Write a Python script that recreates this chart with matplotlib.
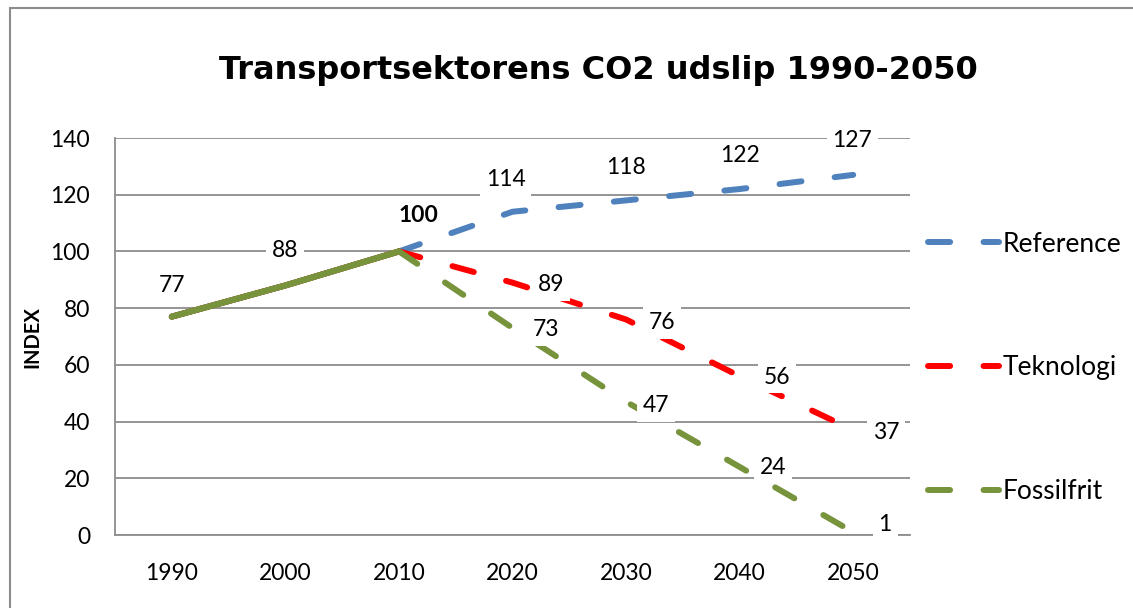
import matplotlib
matplotlib.use("Agg")
import matplotlib.pyplot as plt
from matplotlib.lines import Line2D
from matplotlib.patches import Rectangle

# ---- data ----
years = ["1990", "2000", "2010", "2020", "2030", "2040", "2050"]
reference = [77, 88, 100, 114, 118, 122, 127]
teknologi = [77, 88, 100, 89, 76, 56, 37]
fossilfrit = [77, 88, 100, 73, 47, 24, 1]
series_names = ["Reference", "Teknologi", "Fossilfrit"]
title = "Transportsektorens CO2 udslip 1990-2050"
y_label = "INDEX"

# ---- style ----
colors = {"Reference": "#4F81BD", "Teknologi": "#FF0000", "Fossilfrit": "#77933C"}
FONT = "Lato"
FS = 16.5
LEG_FS = 19
LW = 4.3
DASH = (3.7, 5.6)
GRID = "#8C8C8C"

fig = plt.figure(figsize=(11.33, 6.08), dpi=100)
W, H = 1133, 608
ax = fig.add_axes([115 / W, 1 - 535 / H, (910 - 115) / W, (535 - 138) / H])

xs = list(range(len(years)))
split = years.index("2010")
data = {"Reference": reference, "Teknologi": teknologi, "Fossilfrit": fossilfrit}

handles = []
for i, name in enumerate(series_names):
    vals = data[name]
    c = colors[name]
    ax.plot(xs[: split + 1], vals[: split + 1], color=c, lw=LW,
            solid_capstyle="round", zorder=3 + i * 0.1)
    ax.plot(xs[split:], vals[split:], color=c, lw=LW,
            dashes=DASH, dash_capstyle="round", zorder=3 + i * 0.1)
    handles.append(Line2D([], [], color=c, lw=LW, dashes=DASH,
                          dash_capstyle="round", label=name))
ax.plot(xs[: split + 1], fossilfrit[: split + 1], color=colors["Fossilfrit"],
        lw=LW, solid_capstyle="round", zorder=3.5)

ax.set_xlim(-0.5, len(years) - 0.5)
ax.set_ylim(0, 140)
ax.set_yticks(range(0, 141, 20))
ax.set_xticks(xs)
ax.set_xticklabels(years)
ax.yaxis.grid(True, color=GRID, lw=1.3)
ax.set_axisbelow(True)
for s in ["top", "right"]:
    ax.spines[s].set_visible(False)
for s in ["left", "bottom"]:
    ax.spines[s].set_color(GRID)
    ax.spines[s].set_linewidth(1.3)
ax.tick_params(axis="both", length=0, labelsize=FS)
ax.tick_params(axis="y", pad=18)
ax.tick_params(axis="x", pad=20)
for lab in ax.get_xticklabels() + ax.get_yticklabels():
    lab.set_fontfamily(FONT)

# ---- data labels ----
box = dict(boxstyle="square,pad=0.25", fc="white", ec="none")
ref_off = [(0, 31), (0, 35), (20, 36), (-7, 32), (0, 33), (0, 34), (-1, 34)]
tek_off = [(39, -2), (36, -3), (37, -1), (33, -2)]
fos_off = [(33, -2), (30, -4), (33, -1), (32, 8)]
for j, v in enumerate(reference):
    ax.annotate(str(v), (xs[j], v), xytext=ref_off[j], textcoords="offset pixels",
                ha="center", va="center", fontsize=FS, family=FONT,
                fontweight="bold" if j == split else "normal",
                bbox=box, zorder=6, annotation_clip=False)
for k, j in enumerate(range(split + 1, len(years))):
    ax.annotate(str(teknologi[j]), (xs[j], teknologi[j]), xytext=tek_off[k],
                textcoords="offset pixels", ha="center", va="center",
                fontsize=FS, family=FONT, bbox=box, zorder=6, annotation_clip=False)
    ax.annotate(str(fossilfrit[j]), (xs[j], fossilfrit[j]), xytext=fos_off[k],
                textcoords="offset pixels", ha="center", va="center",
                fontsize=FS, family=FONT, bbox=box, zorder=6, annotation_clip=False)

# ---- legend ----
leg = ax.legend(handles=handles, loc="center left",
                bbox_to_anchor=(928 / W, 1 - 368 / H),
                bbox_transform=fig.transFigure, frameon=False,
                prop={"family": FONT, "size": LEG_FS},
                handlelength=3.1 * FS / LEG_FS,
                handletextpad=0.15, labelspacing=3.75, borderpad=0,
                borderaxespad=0)

# ---- titles ----
fig.text(598 / W, 1 - 70 / H, title, ha="center", va="center",
         fontsize=23, fontweight="bold", family="DejaVu Sans")
fig.text(32 / W, 1 - 337 / H, y_label, rotation=90, ha="center", va="center",
         fontsize=14.5, fontweight="bold", family=FONT)

# ---- outer border ----
fig.add_artist(Rectangle((10 / W, -0.05), 1.2, 1 - 8 / H + 0.05,
                         transform=fig.transFigure, fill=False,
                         ec="#8C8C8C", lw=1.5))

fig.savefig("out.png", dpi=100)
